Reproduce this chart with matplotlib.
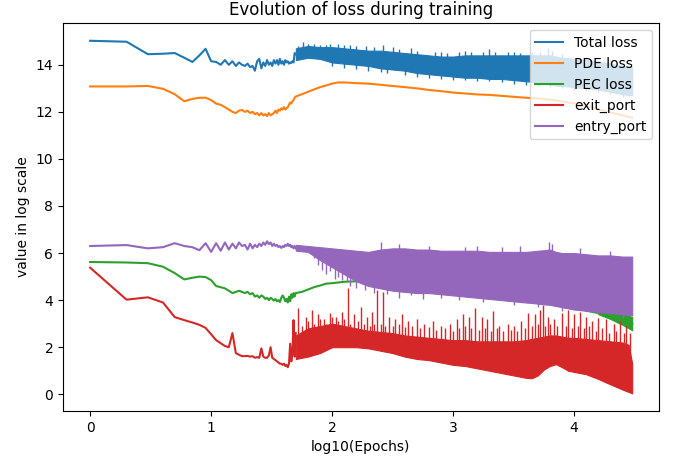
import matplotlib
matplotlib.use("Agg")
import matplotlib.pyplot as plt
import numpy as np

# early epochs, plotted one by one (x = log10(epoch))
epochs = list(range(1, 51))

total_early = [15.02, 14.98, 14.45, 14.47, 14.50, 14.30, 14.12, 14.40, 14.68, 14.15,
               14.12, 14.00, 14.20, 14.00, 14.15, 13.95, 14.10, 14.00, 13.95, 14.05,
               13.90, 13.95, 13.75, 14.15, 14.25, 13.85, 14.10, 13.95, 14.20, 14.00,
               14.10, 13.95, 14.20, 14.05, 14.20, 14.00, 14.25, 14.05, 14.15, 14.00,
               14.20, 14.10, 14.15, 14.05, 14.10, 14.08, 14.15, 14.10, 14.50, 14.45]
pde_early = [13.08, 13.08, 13.10, 12.98, 12.75, 12.45, 12.55, 12.60, 12.60, 12.50,
             12.35, 12.30, 12.20, 12.10, 12.00, 11.95, 12.05, 12.08, 12.00, 12.05,
             11.95, 12.00, 11.90, 11.95, 11.85, 11.95, 11.85, 11.90, 11.82, 11.95,
             11.85, 11.90, 11.95, 12.05, 11.95, 12.10, 12.05, 12.15, 12.10, 12.20,
             12.10, 12.15, 12.20, 12.30, 12.40, 12.35, 12.45, 12.50, 12.60, 12.65]
pec_early = [5.62, 5.60, 5.57, 5.42, 5.15, 4.88, 4.95, 5.00, 4.98, 4.85,
             4.60, 4.55, 4.50, 4.40, 4.30, 4.35, 4.40, 4.35, 4.30, 4.35,
             4.25, 4.30, 4.15, 4.20, 4.10, 4.20, 4.15, 4.05, 4.10, 4.00,
             4.10, 4.05, 3.98, 4.05, 3.95, 4.00, 3.92, 4.10, 4.20, 4.10,
             3.95, 4.05, 3.90, 4.15, 3.95, 4.25, 4.10, 4.30, 4.15, 4.30]
exit_early = [5.38, 4.02, 4.12, 3.90, 3.28, 3.15, 3.05, 2.95, 2.82, 2.55,
              2.30, 2.17, 2.05, 2.00, 2.60, 1.75, 1.68, 1.62, 1.62, 1.63,
              1.60, 1.62, 1.55, 1.58, 1.55, 1.95, 1.60, 1.55, 1.55, 1.65,
              2.00, 1.55, 1.50, 1.45, 1.40, 1.35, 1.30, 1.30, 1.25, 1.30,
              1.20, 1.25, 1.15, 1.30, 2.15, 1.40, 1.80, 3.15, 1.60, 2.60]
entry_early = [6.30, 6.34, 6.20, 6.25, 6.42, 6.30, 6.25, 6.12, 6.42, 6.05,
               6.42, 6.10, 6.45, 6.15, 6.40, 6.20, 6.45, 6.30, 6.35, 6.15,
               6.40, 6.20, 6.35, 6.25, 6.40, 6.30, 6.45, 6.35, 6.50, 6.38,
               6.45, 6.30, 6.40, 6.30, 6.35, 6.25, 6.30, 6.22, 6.30, 6.25,
               6.35, 6.30, 6.40, 6.30, 6.35, 6.25, 6.30, 6.20, 6.30, 6.20]

# later epochs: log10(epoch) positions of the smooth curves
tail_x = [1.75, 1.80, 1.85, 1.90, 1.95, 2.00, 2.05, 2.10, 2.20, 2.30, 2.40, 2.50,
          2.60, 2.70, 2.80, 2.90, 3.00, 3.10, 3.20, 3.30, 3.40, 3.50, 3.60, 3.70,
          3.80, 3.90, 4.00, 4.10, 4.20, 4.30, 4.40, 4.48]
pde_tail = [12.75, 12.85, 12.95, 13.05, 13.12, 13.20, 13.25, 13.25, 13.22, 13.20,
            13.15, 13.10, 13.05, 13.00, 12.93, 12.88, 12.82, 12.78, 12.74, 12.72,
            12.68, 12.64, 12.60, 12.57, 12.52, 12.45, 12.35, 12.25, 12.10, 11.98,
            11.85, 11.75]
pec_tail = [4.35, 4.45, 4.55, 4.62, 4.70, 4.72, 4.75, 4.78, 4.80, 4.82,
            4.82, 4.78, 4.75, 4.72, 4.70, 4.65, 4.60, 4.55, 4.45, 4.38,
            4.30, 4.20, 4.10, 4.00, 3.90, 3.80, 3.70, 3.55, 3.45, 3.35,
            3.20, 3.00]

# noisy part: lower / upper envelope of the oscillating curves
band_x = [1.70, 1.80, 1.90, 2.00, 2.10, 2.20, 2.30, 2.40, 2.50, 2.60, 2.70, 2.80,
          2.90, 3.00, 3.10, 3.20, 3.30, 3.40, 3.50, 3.60, 3.65, 3.70, 3.75, 3.80,
          3.85, 3.90, 3.95, 4.00, 4.10, 4.20, 4.30, 4.40, 4.45, 4.48]
total_lo = [14.20, 14.30, 14.25, 14.10, 14.05, 14.00, 13.95, 13.85, 13.80, 13.75, 13.65, 13.60,
            13.55, 13.50, 13.45, 13.45, 13.40, 13.40, 13.35, 13.30, 13.28, 13.25, 13.20, 13.15,
            13.12, 13.10, 13.08, 13.05, 13.00, 12.95, 12.85, 12.75, 12.72, 12.70]
total_hi = [14.70, 14.80, 14.75, 14.75, 14.70, 14.65, 14.60, 14.60, 14.55, 14.50, 14.45, 14.40,
            14.35, 14.35, 14.40, 14.40, 14.40, 14.40, 14.40, 14.40, 14.40, 14.40, 14.40, 14.40,
            14.35, 14.30, 14.28, 14.25, 14.20, 14.15, 14.05, 13.95, 13.93, 13.90]
exit_lo = [1.50, 1.60, 1.75, 2.00, 2.00, 2.00, 1.95, 1.85, 1.75, 1.60, 1.50, 1.45,
           1.35, 1.25, 1.20, 1.10, 1.00, 0.90, 0.80, 0.70, 0.68, 0.80, 1.05, 1.20,
           1.28, 1.15, 1.00, 0.95, 0.85, 0.65, 0.42, 0.20, 0.10, 0.04]
exit_hi = [2.50, 2.80, 2.90, 3.00, 2.90, 2.80, 2.70, 2.65, 2.60, 2.50, 2.45, 2.40,
           2.35, 2.30, 2.30, 2.25, 2.25, 2.25, 2.25, 2.30, 2.35, 2.40, 2.45, 2.50,
           2.50, 2.45, 2.40, 2.40, 2.35, 2.30, 2.25, 2.20, 2.10, 1.30]
entry_lo = [6.10, 6.05, 5.70, 5.40, 5.10, 4.80, 4.60, 4.50, 4.40, 4.35, 4.30, 4.30,
            4.25, 4.20, 4.15, 4.10, 4.05, 4.00, 3.95, 3.90, 3.88, 3.85, 3.82, 3.80,
            3.75, 3.70, 3.65, 3.60, 3.55, 3.50, 3.45, 3.40, 3.37, 3.35]
entry_hi = [6.35, 6.30, 6.25, 6.20, 6.15, 6.10, 6.05, 6.15, 6.20, 6.20, 6.15, 6.15,
            6.10, 6.10, 6.10, 6.10, 6.05, 6.05, 6.05, 6.05, 6.07, 6.10, 6.12, 6.15,
            6.05, 6.00, 6.00, 6.00, 5.95, 5.90, 5.90, 5.85, 5.85, 5.85]
# PEC widens at the very end
pec_band_x = [4.20, 4.30, 4.40, 4.48]
pec_lo = [3.40, 3.20, 2.95, 2.72]
pec_hi = [3.50, 3.55, 3.45, 3.28]

# single spikes sticking out of the envelopes (x, y)
total_spk_x = [1.72, 1.76, 1.80, 1.85, 1.90, 1.95, 1.98, 2.00, 2.05, 2.10, 2.10, 2.15, 2.20,
               2.20, 2.28, 2.30, 2.35, 2.40, 2.42, 2.45, 2.50, 2.55, 2.60, 2.65, 2.70,
               2.70, 2.80, 2.85, 2.90, 2.90, 2.95, 3.00, 3.05, 3.10, 3.10, 3.15, 3.20,
               3.25, 3.30, 3.30, 3.35, 3.40, 3.45, 3.50, 3.50, 3.55, 3.60, 3.65, 3.70,
               3.72, 3.78, 3.80, 3.82, 3.90, 3.90, 4.00, 4.10, 4.10, 4.20, 4.30, 4.30,
               4.40]
total_spk_y = [14.80, 14.95, 14.90, 14.90, 14.85, 14.85, 14.88, 13.95, 14.90, 14.82, 13.85, 14.85,
               14.78, 13.80, 14.80, 13.75, 14.75, 13.70, 14.85, 13.65, 14.75, 14.65, 13.55,
               14.70, 14.60, 13.50, 13.45, 14.55, 14.55, 13.40, 14.50, 13.35, 14.55, 14.60,
               13.35, 14.55, 13.30, 14.55, 14.65, 13.30, 14.55, 13.25, 14.55, 14.55, 13.20,
               14.50, 13.15, 14.55, 13.10, 14.55, 14.70, 13.05, 14.60, 14.45, 13.00, 12.95,
               14.35, 12.90, 12.85, 14.20, 12.75, 12.65]
exit_spk_x = [1.72, 1.75, 1.78, 1.80, 1.83, 1.85, 1.88, 1.90, 1.93, 1.95, 1.98, 2.00, 2.03,
              2.05, 2.08, 2.10, 2.13, 2.15, 2.18, 2.21, 2.24, 2.26, 2.29, 2.31, 2.33,
              2.35, 2.37, 2.40, 2.42, 2.44, 2.47, 2.50, 2.52, 2.55, 2.58, 2.60, 2.63,
              2.66, 2.70, 2.73, 2.76, 2.80, 2.83, 2.86, 2.90, 2.93, 2.97, 3.00, 3.03,
              3.05, 3.08, 3.10, 3.13, 3.15, 3.18, 3.21, 3.24, 3.26, 3.28, 3.31, 3.33,
              3.36, 3.38, 3.41, 3.45, 3.48, 3.50, 3.53, 3.56, 3.59, 3.62, 3.65, 3.68,
              3.70, 3.72, 3.74, 3.76, 3.78, 3.80, 3.83, 3.86, 3.90, 3.93, 3.95, 3.98,
              4.00, 4.03, 4.05, 4.08, 4.10, 4.12, 4.15, 4.18, 4.20, 4.23, 4.26, 4.29,
              4.33, 4.35, 4.38, 4.41, 4.43, 4.46]
exit_spk_y = [3.66, 2.90, 3.30, 3.10, 3.57, 3.00, 3.40, 3.20, 3.20, 3.00, 3.45, 3.30, 3.30,
              3.10, 3.50, 3.20, 4.50, 3.00, 3.40, 3.10, 3.70, 3.00, 3.30, 2.90, 3.50,
              3.00, 4.43, 3.00, 4.34, 2.90, 3.30, 2.90, 3.20, 3.00, 3.40, 2.85, 3.10,
              2.90, 3.20, 2.80, 3.00, 2.85, 3.10, 2.75, 2.90, 2.80, 3.00, 2.70, 3.20,
              2.80, 3.40, 2.90, 3.30, 2.80, 3.66, 2.75, 3.30, 2.80, 3.20, 2.70, 3.55,
              2.80, 2.90, 2.70, 3.00, 2.75, 2.90, 2.70, 3.10, 2.80, 3.45, 2.90, 3.40,
              3.00, 3.60, 3.79, 2.90, 3.30, 3.00, 3.20, 2.90, 3.45, 2.90, 3.60, 2.80,
              3.40, 2.90, 3.50, 2.80, 3.30, 2.90, 3.10, 2.70, 3.25, 2.80, 3.20, 2.60,
              3.00, 2.70, 3.10, 2.60, 2.90, 2.60]
entry_spk_x = [1.85, 1.88, 1.92, 1.95, 1.98, 2.02, 2.05, 2.08, 2.12, 2.15, 2.20, 2.27, 2.35,
               2.40, 2.45, 2.55, 2.55, 2.65, 2.75, 2.80, 2.90, 3.05, 3.10, 3.20, 3.25,
               3.40, 3.50, 3.55, 3.70, 3.79, 3.82, 3.90, 4.05, 4.20, 4.30, 4.40]
entry_spk_y = [5.80, 5.50, 5.30, 5.10, 5.25, 4.90, 5.00, 4.85, 4.80, 4.60, 4.50, 4.45, 4.30,
               6.45, 4.25, 4.10, 6.40, 4.20, 4.05, 6.30, 4.10, 4.00, 6.25, 6.30, 3.90,
               6.25, 3.80, 6.30, 3.70, 6.47, 6.40, 3.55, 6.20, 3.40, 6.10, 3.25]

colors = ["#1f77b4", "#ff7f0e", "#2ca02c", "#d62728", "#9467bd"]

fig = plt.figure(figsize=(6.74, 4.59), dpi=100)
ax = fig.add_axes([0.0935, 0.1046, 0.884, 0.845])

x_early = np.log10(epochs)


def spikes(x, y, lo_x, lo, hi, color, z):
    mid = (np.interp(x, lo_x, lo) + np.interp(x, lo_x, hi)) / 2
    ax.vlines(x, mid, y, colors=color, lw=1.0, zorder=z)


# Total loss
z = 2.0
ax.plot(x_early, total_early, color=colors[0], lw=1.5, label="Total loss", zorder=z)
ax.fill_between(band_x, total_lo, total_hi, color=colors[0], lw=0.8, zorder=z)
spikes(total_spk_x, total_spk_y, band_x, total_lo, total_hi, colors[0], z)

# PDE loss
z = 2.1
ax.plot(list(x_early) + tail_x, pde_early + pde_tail, color=colors[1], lw=1.5,
        label="PDE loss", zorder=z)

# PEC loss
z = 2.2
ax.plot(list(x_early) + tail_x, pec_early + pec_tail, color=colors[2], lw=1.5,
        label="PEC loss", zorder=z)
ax.fill_between(pec_band_x, pec_lo, pec_hi, color=colors[2], lw=0.8, zorder=z)

# exit_port
z = 2.3
ax.plot(x_early, exit_early, color=colors[3], lw=1.5, label="exit_port", zorder=z)
ax.fill_between(band_x, exit_lo, exit_hi, color=colors[3], lw=0.8, zorder=z)
spikes(exit_spk_x, exit_spk_y, band_x, exit_lo, exit_hi, colors[3], z)

# entry_port
z = 2.4
ax.plot(x_early, entry_early, color=colors[4], lw=1.5, label="entry_port", zorder=z)
ax.fill_between(band_x, entry_lo, entry_hi, color=colors[4], lw=0.8, zorder=z)
spikes(entry_spk_x, entry_spk_y, band_x, entry_lo, entry_hi, colors[4], z)

ax.set_xlim(-0.224, 4.70)
ax.set_ylim(-0.71, 15.77)
ax.set_title("Evolution of loss during training")
ax.set_xlabel("log10(Epochs)")
ax.set_ylabel("value in log scale")
ax.legend(loc="upper right")

fig.savefig("out.png", dpi=100)
